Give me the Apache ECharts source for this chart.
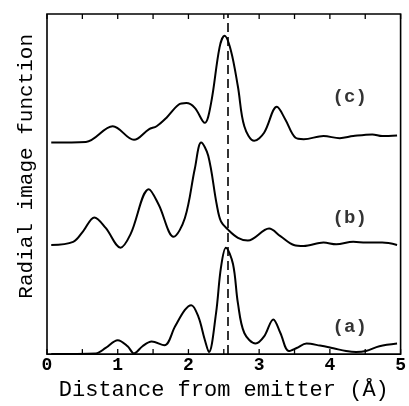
<!DOCTYPE html>
<html>
<head>
<meta charset="utf-8">
<script src="https://cdn.jsdelivr.net/npm/echarts@6/dist/echarts.min.js"></script>
<style>html,body{margin:0;padding:0;background:#fff}#c{width:409px;height:406px}</style>
</head>
<body>
<div id="c"></div>
<script>
// x positions (Å) and curve heights (arbitrary units, 0..100 on the plot)
var cX = [0.06,0.55,0.93,1.23,1.44,1.55,1.69,1.86,1.97,2.09,2.23,2.32,2.44,2.51,2.60,2.70,2.79,2.93,3.07,3.25,3.37,3.51,3.63,3.91,4.14,4.33,4.60,4.74,4.95];
var cY = [62.2,62.4,67.0,63.0,66.1,67.0,69.5,73.3,73.8,72.4,68.0,73.8,90.2,93.6,89.3,78.6,67.0,62.7,65.1,72.7,69.0,63.7,63.2,64.1,63.5,64.1,64.6,64.1,64.3];
var bX = [0.06,0.37,0.51,0.67,0.83,1.04,1.18,1.44,1.58,1.79,1.95,2.09,2.18,2.28,2.40,2.46,2.56,2.70,2.84,3.14,3.30,3.49,3.63,3.91,4.09,4.33,4.51,4.74,4.95];
var bY = [32.1,33.0,36.1,40.2,37.1,31.3,35.2,48.5,43.9,34.5,40.0,54.5,62.2,58.3,44.0,39.0,36.6,34.2,33.4,36.9,34.7,32.1,31.8,32.8,32.3,33.0,32.8,32.8,32.1];
var aX = [0.06,0.69,0.83,1.00,1.14,1.23,1.35,1.48,1.66,1.81,1.95,2.04,2.14,2.23,2.29,2.39,2.46,2.53,2.63,2.70,2.79,2.95,3.07,3.20,3.30,3.42,3.53,3.67,3.86,4.05,4.23,4.37,4.51,4.70,4.95];
var aY = [0.0,0.2,1.8,4.1,2.3,0.2,2.3,3.7,2.6,8.1,13.0,14.4,11.0,4.3,0.6,12.0,25.5,31.3,26.5,14.9,6.2,3.1,5.2,10.2,6.2,0.9,1.8,3.1,2.5,1.7,0.9,0.6,0.9,2.3,3.1];
var markerX = 2.55;
var labels = ['(a)','(b)','(c)'];
var labelPos = [[4.28,8.0],[4.28,40.0],[4.28,75.4]];
var xTicks = [0,1,2,3,4,5];
var tickMarks = [0,0.5,1,1.5,2,2.5,3,3.5,4,4.5,5];

function pairs(xs, ys){ return xs.map(function(x,i){return [x, ys[i]];}); }
var FONT = 'Liberation Mono';
var lineStyle = {color:'#000', width:2};

var chart = echarts.init(document.getElementById('c'));
chart.setOption({
  animation:false,
  backgroundColor:'#fff',
  grid:{left:47, right:5, top:14, bottom:48},
  xAxis:{
    type:'value', min:0, max:5, interval:0.5,
    name:'Distance from emitter (Å)', nameLocation:'middle', nameGap:16,
    nameTextStyle:{fontFamily:FONT, fontSize:22, color:'#000'},
    axisLine:{show:false}, axisTick:{show:false},
    axisLabel:{fontFamily:FONT, fontWeight:'bold', fontSize:18, color:'#000', margin:2,
      formatter:function(v){ return xTicks.indexOf(v) >= 0 ? String(v) : ''; }},
    splitLine:{show:false}
  },
  yAxis:{
    type:'value', min:0, max:100,
    axisLine:{show:false}, axisTick:{show:false}, axisLabel:{show:false}, splitLine:{show:false}
  },
  graphic:[{
    type:'text', left:16, top:34, rotation:Math.PI/2,
    style:{text:'Radial image function', font:'21px "Liberation Mono"', fill:'#000'},
    silent:true
  }],
  series:[
    {type:'line', data:pairs(aX,aY), smooth:0.35, showSymbol:false, lineStyle:lineStyle, z:3,
     markLine:{silent:true, symbol:'none', label:{show:false},
       lineStyle:{color:'#000', type:[9,5], width:1.6}, data:[{xAxis:markerX}]}},
    {type:'line', data:pairs(bX,bY), smooth:0.35, showSymbol:false, lineStyle:lineStyle, z:3},
    {type:'line', data:pairs(cX,cY), smooth:0.35, showSymbol:false, lineStyle:lineStyle, z:3},
    {type:'scatter', symbolSize:0,
     data:labelPos.map(function(p,i){return {value:p, name:labels[i]};}),
     label:{show:true, position:'inside', formatter:'{b}', fontFamily:FONT, fontWeight:'bold', fontSize:19, color:'#000'}},
    {type:'custom', silent:true, z:5, clip:false,
     data:tickMarks.map(function(t){return [t];}),
     renderItem:function(params, api){
       var b = api.coord([api.value(0), 0]);
       var t = api.coord([api.value(0), 100]);
       var st = {stroke:'#000', lineWidth:1.3, fill:null};
       var kids = [
         {type:'line', shape:{x1:b[0], y1:b[1], x2:b[0], y2:b[1]-5}, style:st},
         {type:'line', shape:{x1:t[0], y1:t[1], x2:t[0], y2:t[1]+5}, style:st}
       ];
       if (params.dataIndex === 0) {
         var p0 = api.coord([0,0]), p1 = api.coord([5,100]);
         kids.push({type:'rect', shape:{x:p0[0], y:p1[1], width:p1[0]-p0[0], height:p0[1]-p1[1]},
                    style:{stroke:'#000', lineWidth:1.6, fill:null}});
       }
       return {type:'group', children:kids};
     }}
  ]
});
</script>
</body>
</html>
